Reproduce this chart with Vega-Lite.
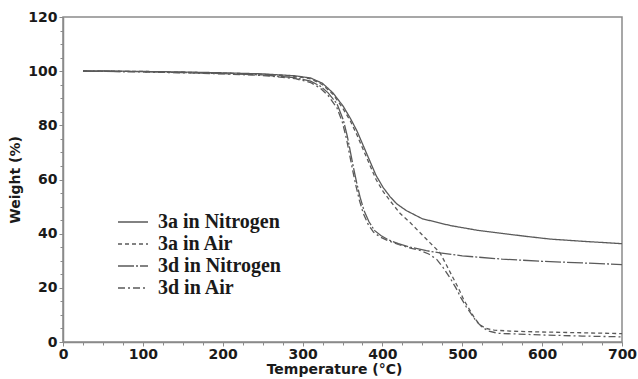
{
  "$schema": "https://vega.github.io/schema/vega-lite/v6.json",
  "width": 559,
  "height": 325,
  "autosize": "none",
  "padding": {"left": 63, "top": 17, "right": 16, "bottom": 37},
  "background": "white",
  "config": {
    "view": {"stroke": "#8a8a8a", "strokeWidth": 1.5},
    "axis": {
      "domainColor": "#8a8a8a", "domainWidth": 1.5, "tickColor": "#8a8a8a",
      "labelFont": "DejaVu Sans", "labelFontWeight": "bold", "labelFontSize": 14, "labelColor": "#1a1a1a",
      "titleFont": "DejaVu Sans", "titleFontWeight": "bold", "titleFontSize": 14, "titleColor": "#1a1a1a",
      "grid": false
    }
  },
  "data": {"values": [
    {"s":"3a in Nitrogen","t":25,"w":100},{"s":"3a in Nitrogen","t":50,"w":100.1},{"s":"3a in Nitrogen","t":100,"w":99.9},{"s":"3a in Nitrogen","t":150,"w":99.7},{"s":"3a in Nitrogen","t":200,"w":99.4},{"s":"3a in Nitrogen","t":250,"w":99},{"s":"3a in Nitrogen","t":290,"w":98.3},{"s":"3a in Nitrogen","t":310,"w":97.5},{"s":"3a in Nitrogen","t":325,"w":95.5},{"s":"3a in Nitrogen","t":338,"w":92},{"s":"3a in Nitrogen","t":351,"w":87},{"s":"3a in Nitrogen","t":360,"w":82.5},{"s":"3a in Nitrogen","t":368,"w":78},{"s":"3a in Nitrogen","t":376,"w":72.5},{"s":"3a in Nitrogen","t":384,"w":67},{"s":"3a in Nitrogen","t":392,"w":61.5},{"s":"3a in Nitrogen","t":401,"w":57},{"s":"3a in Nitrogen","t":410,"w":53.5},{"s":"3a in Nitrogen","t":418,"w":51},{"s":"3a in Nitrogen","t":430,"w":48.5},{"s":"3a in Nitrogen","t":450,"w":45.5},{"s":"3a in Nitrogen","t":485,"w":43},{"s":"3a in Nitrogen","t":520,"w":41.2},{"s":"3a in Nitrogen","t":547,"w":40.2},{"s":"3a in Nitrogen","t":580,"w":39},{"s":"3a in Nitrogen","t":610,"w":38},{"s":"3a in Nitrogen","t":650,"w":37.2},{"s":"3a in Nitrogen","t":700,"w":36.3},

    {"s":"3a in Air","t":25,"w":100.1},{"s":"3a in Air","t":50,"w":100},{"s":"3a in Air","t":100,"w":99.9},{"s":"3a in Air","t":150,"w":99.6},{"s":"3a in Air","t":200,"w":99.3},{"s":"3a in Air","t":250,"w":98.9},{"s":"3a in Air","t":290,"w":98.1},{"s":"3a in Air","t":310,"w":97.2},{"s":"3a in Air","t":325,"w":95},{"s":"3a in Air","t":338,"w":91.5},{"s":"3a in Air","t":351,"w":86},{"s":"3a in Air","t":360,"w":81.5},{"s":"3a in Air","t":368,"w":76.5},{"s":"3a in Air","t":376,"w":71},{"s":"3a in Air","t":384,"w":65.5},{"s":"3a in Air","t":392,"w":60},{"s":"3a in Air","t":401,"w":55.5},{"s":"3a in Air","t":410,"w":52},{"s":"3a in Air","t":422,"w":47.5},{"s":"3a in Air","t":435,"w":44},{"s":"3a in Air","t":450,"w":39.5},{"s":"3a in Air","t":460,"w":36.5},{"s":"3a in Air","t":472,"w":33},{"s":"3a in Air","t":480,"w":28.5},{"s":"3a in Air","t":487,"w":24.5},{"s":"3a in Air","t":495,"w":20},{"s":"3a in Air","t":502,"w":15.5},{"s":"3a in Air","t":508,"w":12.5},{"s":"3a in Air","t":515,"w":9},{"s":"3a in Air","t":522,"w":6.3},{"s":"3a in Air","t":530,"w":5},{"s":"3a in Air","t":540,"w":4.4},{"s":"3a in Air","t":560,"w":4},{"s":"3a in Air","t":600,"w":3.7},{"s":"3a in Air","t":650,"w":3.4},{"s":"3a in Air","t":700,"w":3.1},

    {"s":"3d in Nitrogen","t":25,"w":100},{"s":"3d in Nitrogen","t":50,"w":99.9},{"s":"3d in Nitrogen","t":100,"w":99.8},{"s":"3d in Nitrogen","t":150,"w":99.5},{"s":"3d in Nitrogen","t":200,"w":99.1},{"s":"3d in Nitrogen","t":250,"w":98.6},{"s":"3d in Nitrogen","t":290,"w":97.6},{"s":"3d in Nitrogen","t":310,"w":96.3},{"s":"3d in Nitrogen","t":322,"w":94.5},{"s":"3d in Nitrogen","t":332,"w":92},{"s":"3d in Nitrogen","t":343,"w":88},{"s":"3d in Nitrogen","t":351,"w":82},{"s":"3d in Nitrogen","t":356,"w":76},{"s":"3d in Nitrogen","t":360,"w":70},{"s":"3d in Nitrogen","t":364,"w":64},{"s":"3d in Nitrogen","t":368,"w":58.5},{"s":"3d in Nitrogen","t":372,"w":53.5},{"s":"3d in Nitrogen","t":377,"w":48.5},{"s":"3d in Nitrogen","t":383,"w":44.5},{"s":"3d in Nitrogen","t":390,"w":41.2},{"s":"3d in Nitrogen","t":398,"w":39.3},{"s":"3d in Nitrogen","t":407,"w":37.8},{"s":"3d in Nitrogen","t":420,"w":36.3},{"s":"3d in Nitrogen","t":435,"w":35},{"s":"3d in Nitrogen","t":455,"w":33.7},{"s":"3d in Nitrogen","t":472,"w":32.9},{"s":"3d in Nitrogen","t":500,"w":31.8},{"s":"3d in Nitrogen","t":550,"w":30.6},{"s":"3d in Nitrogen","t":600,"w":29.8},{"s":"3d in Nitrogen","t":650,"w":29.2},{"s":"3d in Nitrogen","t":700,"w":28.6},

    {"s":"3d in Air","t":25,"w":100.1},{"s":"3d in Air","t":50,"w":100},{"s":"3d in Air","t":100,"w":99.7},{"s":"3d in Air","t":150,"w":99.4},{"s":"3d in Air","t":200,"w":99},{"s":"3d in Air","t":250,"w":98.4},{"s":"3d in Air","t":290,"w":97.3},{"s":"3d in Air","t":310,"w":95.8},{"s":"3d in Air","t":322,"w":93.8},{"s":"3d in Air","t":332,"w":91},{"s":"3d in Air","t":343,"w":86.5},{"s":"3d in Air","t":350,"w":81},{"s":"3d in Air","t":355,"w":75},{"s":"3d in Air","t":359,"w":69},{"s":"3d in Air","t":363,"w":63},{"s":"3d in Air","t":367,"w":57.5},{"s":"3d in Air","t":371,"w":52.5},{"s":"3d in Air","t":376,"w":47.5},{"s":"3d in Air","t":382,"w":43.5},{"s":"3d in Air","t":389,"w":40.5},{"s":"3d in Air","t":397,"w":38.8},{"s":"3d in Air","t":407,"w":37.4},{"s":"3d in Air","t":420,"w":36},{"s":"3d in Air","t":435,"w":34.7},{"s":"3d in Air","t":447,"w":33.8},{"s":"3d in Air","t":458,"w":32.5},{"s":"3d in Air","t":468,"w":30.5},{"s":"3d in Air","t":476,"w":27.5},{"s":"3d in Air","t":485,"w":23.5},{"s":"3d in Air","t":492,"w":20},{"s":"3d in Air","t":498,"w":16.5},{"s":"3d in Air","t":505,"w":13},{"s":"3d in Air","t":512,"w":10},{"s":"3d in Air","t":518,"w":7.5},{"s":"3d in Air","t":525,"w":5.5},{"s":"3d in Air","t":533,"w":4},{"s":"3d in Air","t":545,"w":3.2},{"s":"3d in Air","t":600,"w":2.6},{"s":"3d in Air","t":650,"w":2.2},{"s":"3d in Air","t":700,"w":1.9}
  ]},
  "mark": {"type": "line", "strokeWidth": 1.3, "color": "#5a5a5a", "clip": true},
  "encoding": {
    "x": {"field": "t", "type": "quantitative", "title": "Temperature (°C)",
      "scale": {"domain": [0, 700], "nice": false, "zero": false},
      "axis": {"values": [0,25,50,75,100,125,150,175,200,225,250,275,300,325,350,375,400,425,450,475,500,525,550,575,600,625,650,675,700],
        "labelExpr": "datum.value % 100 === 0 ? datum.label : ''",
        "tickSize": {"condition": {"test": "datum.value % 100 === 0", "value": 4}, "value": 3},
        "labelPadding": 1, "titlePadding": 1, "titleX": 271, "labelFlush": false}},
    "y": {"field": "w", "type": "quantitative", "title": "Weight (%)",
      "scale": {"domain": [0, 120], "nice": false, "zero": false},
      "axis": {"values": [0,5,10,15,20,25,30,35,40,45,50,55,60,65,70,75,80,85,90,95,100,105,110,115,120],
        "labelExpr": "datum.value % 20 === 0 ? datum.label : ''",
        "tickSize": {"condition": {"test": "datum.value % 20 === 0", "value": 4}, "value": 3},
        "labelPadding": 2, "titlePadding": 5, "labelFlush": false}},
    "strokeDash": {"field": "s", "type": "nominal",
      "scale": {"domain": ["3a in Nitrogen", "3a in Air", "3d in Nitrogen", "3d in Air"],
        "range": [[1, 0], [4, 3], [16, 2, 2, 2], [7, 3, 2, 3]]},
      "legend": {"title": null, "orient": "none", "legendX": 54, "legendY": 195,
        "labelFont": "Liberation Serif", "labelFontWeight": "bold", "labelFontSize": 20, "labelColor": "#1a1a1a",
        "symbolType": "stroke", "symbolSize": 900, "symbolStrokeColor": "#5a5a5a", "symbolStrokeWidth": 1.3,
        "clipHeight": 20, "rowPadding": 2, "labelOffset": 9}}
  }
}
